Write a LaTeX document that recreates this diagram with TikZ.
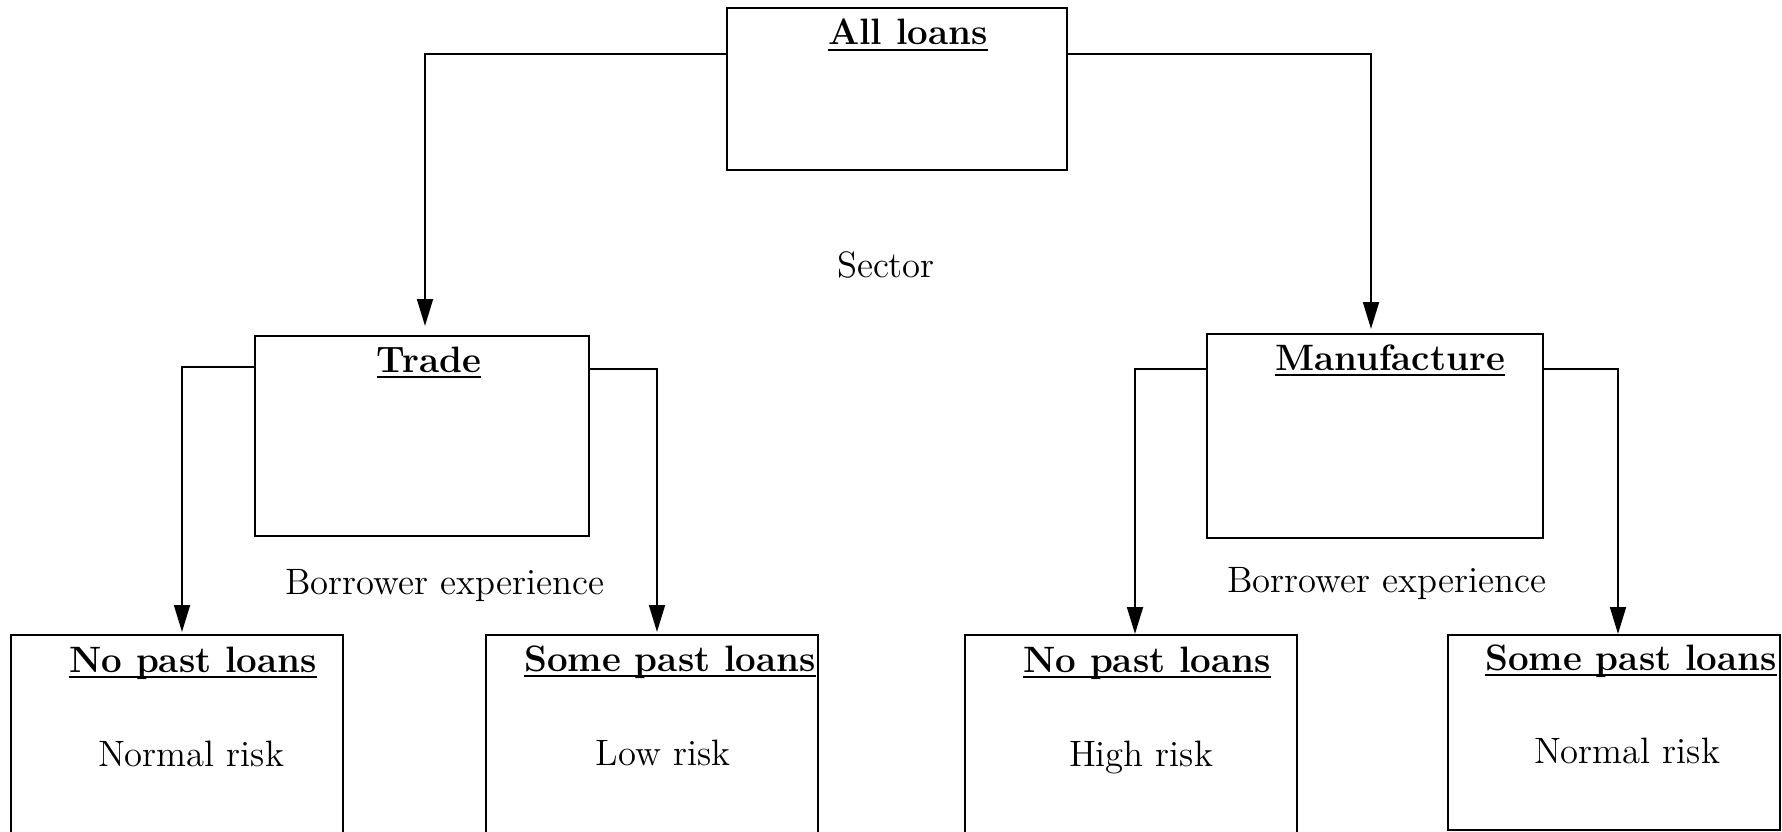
\documentclass[12pt,tikz,border=0pt]{standalone}
\usetikzlibrary{positioning, calc, arrows.meta}
\newcommand{\pxu}{0.3268pt}
\newcommand{\uln}[1]{\setbox0=\hbox{#1}\leavevmode\rlap{\rule[-1.95pt]{\wd0}{0.65pt}}\box0}

\begin{document}
\begin{tikzpicture}[
        x=\pxu, y=-\pxu,
        box/.style={rectangle, draw, line width=0.68pt, inner sep=0pt, minimum width=332*\pxu, minimum height=220*\pxu},
        head/.style={anchor=base, inner sep=0pt, font=\bfseries},
        body/.style={anchor=base, inner sep=0pt},
        arr/.style={-{Triangle[length=8.8pt, width=5.2pt]}, line width=0.68pt}
    ]
        \useasboundingbox (0,0) rectangle (1782,832);

        % Boxes
        \node[box, minimum width=340*\pxu, minimum height=162*\pxu] (ALL) at (897,89) {};
        \node[box, minimum width=334*\pxu, minimum height=200*\pxu] (TRADE) at (422,436) {};
        \node[box, minimum width=336*\pxu, minimum height=204*\pxu] (MANU) at (1375,436) {};
        \node[box] (B1) at (177,745) {};
        \node[box] (B2) at (652,745) {};
        \node[box] (B3) at (1131,745) {};
        \node[box, minimum height=195*\pxu] (B4) at (1614,732.5) {};

        % Headings
        \node[head] (ALLhead) at (908,45) {\uln{All loans}};
        \node[head] (TRADEhead) at (429,372) {\uln{Trade}};
        \node[head] (MANUhead) at (1390,370) {\uln{Manufacture}};
        \node[head] (B1head) at (193,672) {\uln{No past loans}};
        \node[head] (B2head) at (670,671) {\uln{Some past loans}};
        \node[head] (B3head) at (1147,672) {\uln{No past loans}};
        \node[head] (B4head) at (1631,670) {\uln{Some past loans}};

        % Risk levels
        \node[body] (B1risk) at (191,766) {Normal risk};
        \node[body] (B2risk) at (663,765) {Low risk};
        \node[body] (B3risk) at (1141,766) {High risk};
        \node[body] (B4risk) at (1627,763) {Normal risk};

        % Split criteria
        \node[body] (SECTOR) at (886,277) {Sector};
        \node[body] (EXPL) at (445,594) {Borrower experience};
        \node[body] (EXPR) at (1387,592) {Borrower experience};

        \draw[arr] ($(ALL.north west)+(0,47)$) -| ($(TRADE.north)+(3,-9)$);
        \draw[arr] ($(ALL.north east)+(0,47)$) -| ($(MANU.north)+(-4,-4)$);
        \draw[arr] ($(TRADE.north west)+(0,32)$) -| ($(B1.north)+(5,-2)$);
        \draw[arr] ($(TRADE.north east)+(0,34)$) -| ($(B2.north)+(5,-2)$);
        \draw[arr] ($(MANU.north west)+(0,36)$) -| ($(B3.north)+(4,0)$);
        \draw[arr] ($(MANU.north east)+(0,36)$) -| ($(B4.north)+(4,0)$);
    \end{tikzpicture}
\end{document}
